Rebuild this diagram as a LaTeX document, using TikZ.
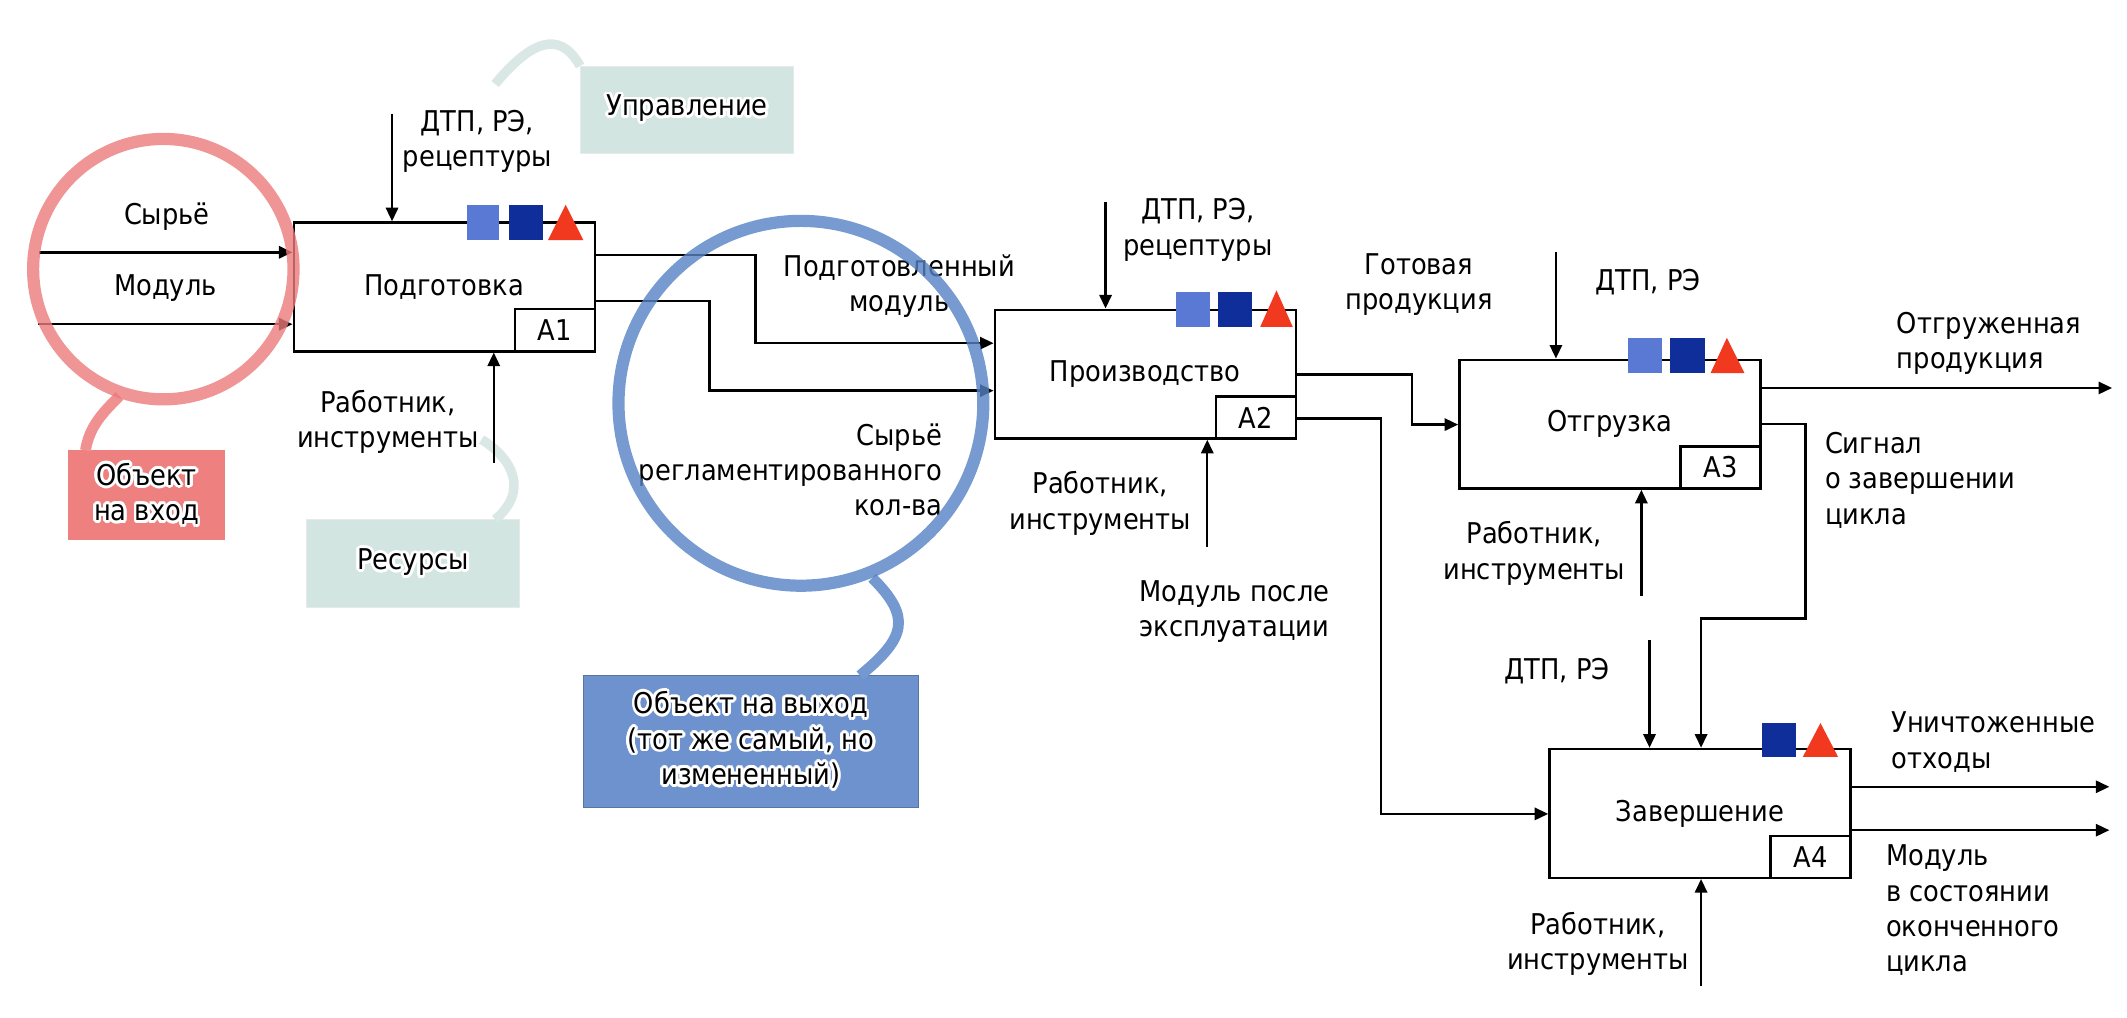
\documentclass[tikz,border=0pt]{standalone}
\usepackage{fontspec}
\setmainfont{DejaVu Sans}[FakeStretch=0.9]
\usepackage[copies]{contour}
\contourlength{1.2pt}
\usetikzlibrary{arrows.meta}
\definecolor{mkA}{HTML}{5A79D4}
\definecolor{mkB}{HTML}{102E9A}
\definecolor{mkR}{HTML}{F0391E}
\definecolor{pinkring}{HTML}{EC7A7A}
\definecolor{pinktail}{HTML}{F09090}
\definecolor{pinkbox}{HTML}{EE8080}
\definecolor{bluering}{HTML}{5582C4}
\definecolor{bluetail}{HTML}{7499D0}
\definecolor{bluebox}{HTML}{6E92CD}
\definecolor{tealbox}{HTML}{D3E5E1}
\definecolor{tealtail}{HTML}{DAE8E5}
\newcommand\dfont{\fontsize{12}{14.8}\selectfont}
\tikzset{
  proc/.style={draw=black, line width=1pt, fill=white, minimum width=4.44cm, minimum height=1.9cm, inner sep=0pt},
  lbl/.style={draw=black, line width=1pt, fill=white, minimum width=1.18cm, minimum height=0.62cm, inner sep=0pt, anchor=south east},
  arr/.style={-{Triangle[length=2mm,width=1.8mm]}, line width=1pt},
  txt/.style={align=center, inner sep=0pt},
  txtl/.style={align=left, inner sep=0pt, anchor=west},
  callbox/.style={inner sep=0pt, align=center},
  ringline/.style={line width=0.18cm, opacity=0.8},
  tailline/.style={line width=0.16cm}
}
\begin{document}
\begin{tikzpicture}[x=0.02cm, y=-0.02cm, font=\dfont]
\useasboundingbox (0,0) rectangle (1568,750);

% ---- callout boxes and tails
\node[callbox, fill=tealbox, draw=tealbox!90!black!40, minimum width=3.14cm, minimum height=1.28cm] (upr) at (506.5,81) {};
\draw[tealtail, line width=0.14cm] (upr.north west) .. controls (416,28) and (398,22) .. (365,62);
\node[callbox, fill=tealbox, draw=tealbox!90!black!40, minimum width=3.14cm, minimum height=1.3cm] (res) at (304.5,415.5) {};
\coordinate (rt) at (365,383);
\draw[tealtail, line width=0.14cm] (rt) .. controls (390,362) and (378,338) .. (355,324);

\node[callbox, fill=pinkbox, minimum width=2.32cm, minimum height=1.32cm] (pbox) at (108,365) {};
\coordinate (pt) at (63,332);
\draw[pinktail, tailline] (pt) .. controls (66,314) and (76,304) .. (88,292);

\node[callbox, fill=bluebox, draw=bluebox!80!black, minimum width=4.94cm, minimum height=1.94cm] (bbox) at (553.5,546.5) {};
\coordinate (bt) at (634,498);
\draw[bluetail, tailline] (bt) .. controls (668,470) and (672,455) .. (643,426);

% ---- process boxes
\node[proc] (A1) at (327.5,211.5) {Подготовка};
\node[lbl] (L1) at (A1.south east) {A1};
\node[proc] (A2) at (844.3,275.8) {Производство};
\node[lbl] (L2) at (A2.south east) {A2};
\node[proc] (A3) at (1186.8,312.7) {Отгрузка};
\node[lbl] (L3) at (A3.south east) {A3};
\node[proc] (A4) at (1253.2,599.6) {Завершение};
\node[lbl] (L4) at (A4.south east) {A4};

% ---- markers
\fill[mkA] (344,151) rectangle (368,177);
\fill[mkB] (375,151) rectangle (400,177);
\fill[mkR] (404,177) -- (417,151) -- (430,177) -- cycle;
\fill[mkA] (867,215) rectangle (892,241);
\fill[mkB] (898,215) rectangle (923,241);
\fill[mkR] (929,241) -- (941,214) -- (953,241) -- cycle;
\fill[mkA] (1200,249) rectangle (1225,275);
\fill[mkB] (1231,249) rectangle (1257,275);
\fill[mkR] (1261,275) -- (1273,249) -- (1286,275) -- cycle;
\fill[mkB] (1299,533) rectangle (1324,558);
\fill[mkR] (1329,558) -- (1342,533) -- (1355,558) -- cycle;

% ---- coordinates
\coordinate (i1) at (29,186);
\coordinate (i2) at (28,239);
\coordinate (c1) at (289,84);
\coordinate (m1) at (364,341);
\coordinate (b1) at (557,188);
\coordinate (b2) at (523,222);
\coordinate (e1) at (0,253);
\coordinate (e2) at (0,288);
\coordinate (c2) at (815,149);
\coordinate (m2) at (890,403);
\coordinate (d1) at (1041,276);
\coordinate (d2) at (1018,308.6);
\coordinate (e3) at (0,313);
\coordinate (e4) at (0,600);
\coordinate (c3) at (1147,186);
\coordinate (m3) at (1210,439);
\coordinate (o3) at (1557,286);
\coordinate (s1) at (1331,312.6);
\coordinate (s2) at (1254,456);
\coordinate (c4) at (1216,472);
\coordinate (m4) at (1254,727);
\coordinate (o4a) at (1555,580);
\coordinate (o4b) at (1555,612);

% ---- connectors
\draw[arr] (i1) -- (i1 -| A1.west);
\draw[arr] (i2) -- (i2 -| A1.west);
\draw[arr] (c1) -- (c1 |- A1.north);
\draw[arr] (m1) -- (m1 |- A1.south);
\draw[arr] (A1.east |- b1) -- (b1) |- (A2.west |- e1);
\draw[arr] (A1.east |- b2) -- (b2) |- (A2.west |- e2);
\draw[arr] (c2) -- (c2 |- A2.north);
\draw[arr] (m2) -- (m2 |- A2.south);
\draw[arr] (A2.east |- d1) -- (d1) |- (A3.west |- e3);
\draw[arr] (A2.east |- d2) -- (d2) |- (A4.west |- e4);
\draw[arr] (c3) -- (c3 |- A3.north);
\draw[arr] (m3) -- (m3 |- A3.south);
\draw[arr] (A3.east |- o3) -- (o3);
\draw[arr] (A3.east |- s1) -- (s1) |- (s2) -- (s2 |- A4.north);
\draw[arr] (c4) -- (c4 |- A4.north);
\draw[arr] (m4) -- (m4 |- A4.south);
\draw[arr] (A4.east |- o4a) -- (o4a);
\draw[arr] (A4.east |- o4b) -- (o4b);

% ---- labels
\node[txt] (t1) at (123,160) {Сырьё};
\node[txt] (t2) at (122,212) {Модуль};
\node[txt] (t3) at (352,104) {ДТП, РЭ,\\рецептуры};
\node[txt] (t4) at (286,311) {Работник,\\инструменты};
\node[txt] (t5) at (663,211) {Подготовленный\\модуль};
\node[txt, align=right, anchor=east] (t6) at (695,346.5) {Сырьё\\регламентированного\\кол-ва};
\node[txt] (t7) at (883,169.5) {ДТП, РЭ,\\рецептуры};
\node[txt] (t8) at (811,371) {Работник,\\инструменты};
\node[txt] (t9) at (910,451) {Модуль после\\эксплуатации};
\node[txt] (t10) at (1046,210) {Готовая\\продукция};
\node[txt] (t11) at (1215,208) {ДТП, РЭ};
\node[txtl] (t12) at (1398,253) {Отгруженная\\продукция};
\node[txtl] (t13) at (1345,354) {Сигнал\\о завершении\\цикла};
\node[txt] (t14) at (1131,408) {Работник,\\инструменты};
\node[txt] (t15) at (1148,495) {ДТП, РЭ};
\node[txtl] (t16) at (1394,547) {Уничтоженные\\отходы};
\node[txtl] (t17) at (1390,671) {Модуль\\в состоянии\\оконченного\\цикла};
\node[txt] (t18) at (1178,696) {Работник,\\инструменты};

% ---- rings (semi-transparent, over lines)
\draw[pinkring, ringline] (120.4,198.4) circle [radius=1.92cm];
\draw[bluering, ringline] (590.4,297.3) circle [radius=2.69cm];

% ---- callout texts (with white halo)
\node[txt] (tu) at (upr) {\contour{white}{Управление}};
\node[txt] (tr) at (res) {\contour{white}{Ресурсы}};
\node[txt] (tp) at (pbox) {\contour{white}{Объект}\\\contour{white}{на вход}};
\node[txt] (tb) at (bbox) {\contour{white}{Объект на выход}\\\contour{white}{(тот же самый, но}\\\contour{white}{измененный)}};
\end{tikzpicture}
\end{document}
